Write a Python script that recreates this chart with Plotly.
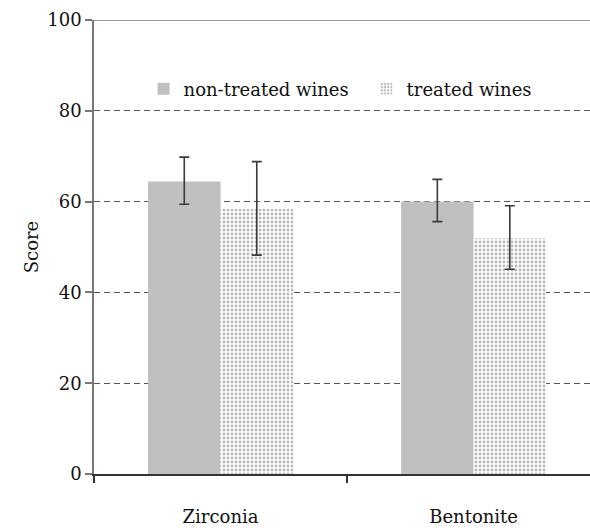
import plotly.graph_objects as go

# Sensory scores of wines fined with zirconia vs. bentonite
categories = ["Zirconia", "Bentonite"]
non_treated = [64.4, 60.0]
non_treated_err_plus = [5.4, 4.9]
non_treated_err_minus = [5.0, 4.4]
treated = [58.4, 51.9]
treated_err_plus = [10.4, 7.2]
treated_err_minus = [10.2, 6.8]
y_ticks = [0, 20, 40, 60, 80, 100]

FONT = "DejaVu Serif"

fig = go.Figure()
fig.add_trace(go.Bar(
    name="non-treated wines",
    x=categories, y=non_treated,
    marker=dict(color="#c0c0c0", line=dict(width=0)),
    error_y=dict(type="data", symmetric=False,
                 array=non_treated_err_plus, arrayminus=non_treated_err_minus,
                 color="#3a3a3a", thickness=1.6, width=5),
))
fig.add_trace(go.Bar(
    name="treated wines",
    x=categories, y=treated,
    marker=dict(color="#ffffff", line=dict(width=0),
                pattern=dict(shape=".", fgcolor="#707070", bgcolor="#ffffff",
                             size=4, solidity=0.38)),
    error_y=dict(type="data", symmetric=False,
                 array=treated_err_plus, arrayminus=treated_err_minus,
                 color="#3a3a3a", thickness=1.6, width=5),
))

# solid frame line along the top of the plotting area
fig.add_shape(type="line", xref="paper", yref="y", x0=0, x1=1,
              y0=y_ticks[-1], y1=y_ticks[-1],
              line=dict(color="#777777", width=1.5), layer="above")

fig.update_layout(
    width=590, height=531,
    margin=dict(l=94, r=0, t=20, b=57, autoexpand=False),
    paper_bgcolor="white", plot_bgcolor="white",
    font=dict(family=FONT, size=18, color="#111111"),
    barmode="group", bargap=0.427, bargroupgap=0,
    showlegend=True,
    legend=dict(orientation="h", x=0.1, y=0.848, xanchor="left", yanchor="middle",
                bgcolor="rgba(255,255,255,0)", font=dict(family=FONT, size=18),
                entrywidth=178, entrywidthmode="pixels", traceorder="normal"),
    xaxis=dict(range=[-0.5, 1.46], showgrid=False,
               showline=True, linecolor="#333333", linewidth=1.5,
               ticks="outside", tickson="boundaries", ticklen=7,
               tickcolor="#333333", tickwidth=1.5,
               ticklabelstandoff=26, tickfont=dict(family=FONT, size=18)),
    yaxis=dict(range=[0, 100], tickvals=y_ticks,
               showgrid=True, gridcolor="#555555", gridwidth=1.3,
               griddash="6px,4px",
               showline=True, linecolor="#777777", linewidth=1.5,
               ticks="outside", ticklen=7, tickcolor="#777777", tickwidth=1.5,
               zeroline=False, tickfont=dict(family=FONT, size=18),
               title=dict(text="Score", font=dict(family=FONT, size=18), standoff=4)),
)

fig.write_html("out.html")
